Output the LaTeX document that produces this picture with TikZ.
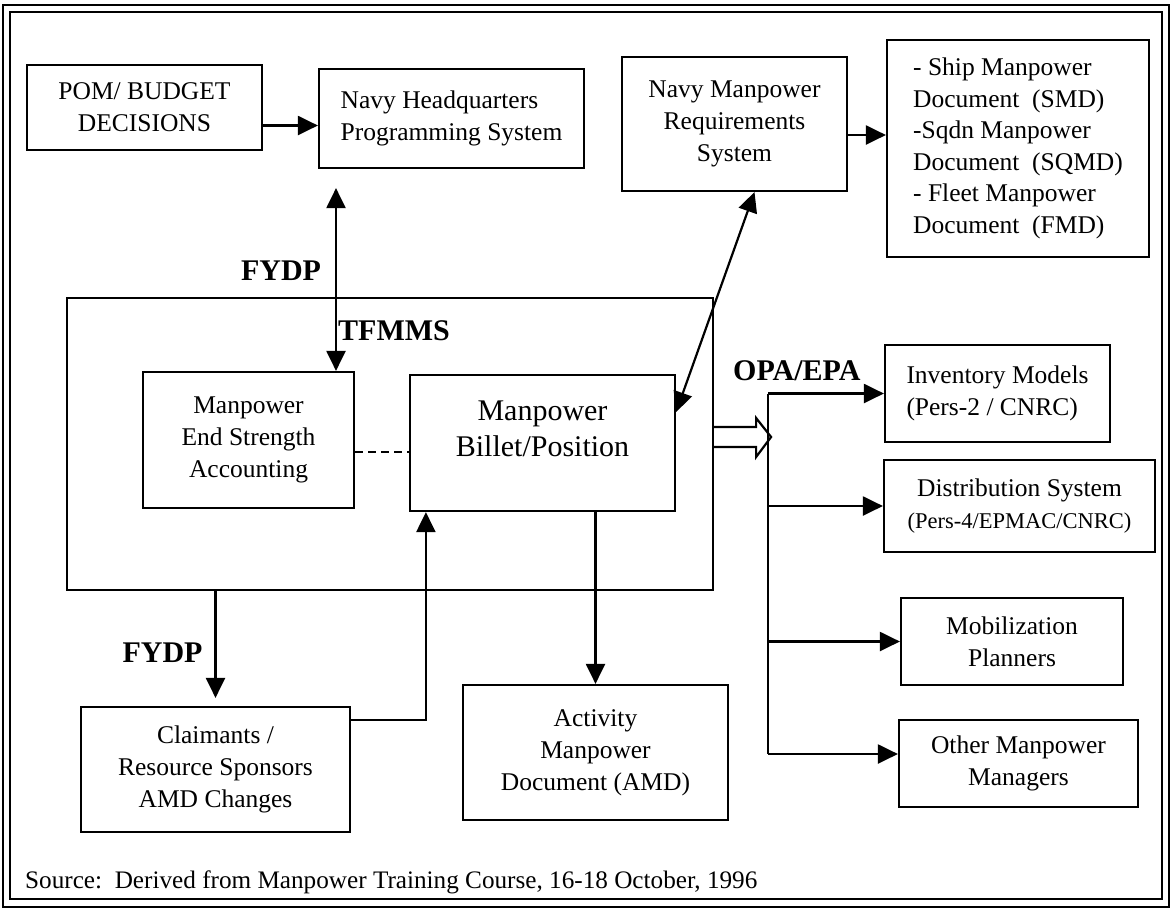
\documentclass[tikz,border=0pt]{standalone}
\usepackage{fontspec}
\setmainfont{Liberation Serif}
\usetikzlibrary{arrows.meta}

\begin{document}
\begin{tikzpicture}[x=1pt,y=-1pt,
  box/.style={draw=black,line width=2.2pt,align=center,font=\fontsize{25.5}{32}\selectfont},
  lbl/.style={font=\fontsize{30}{36}\selectfont\bfseries},
  arr/.style={black,line width=2.2pt,-{Triangle[length=20pt,width=19pt]}},
  darr/.style={black,line width=2.2pt,{Triangle[length=20pt,width=19pt]}-{Triangle[length=20pt,width=19pt]}}]
\tikzstyle{every node}+=[inner sep=0pt]
\useasboundingbox (0,0) rectangle (1172,911);
\draw [black,line width=2.6pt] (3,5) rectangle (1169,907);
\draw [black,line width=1.6pt] (10,12) rectangle (1162,899);
\node [box,minimum width=235pt,minimum height=85pt] (pom) at (144.5,107.5) {POM/ BUDGET\\DECISIONS};
\node [box,minimum width=265pt,minimum height=99pt,align=left] (hq) at (451.5,118.5) {Navy Headquarters\\Programming System};
\node [box,minimum width=225pt,minimum height=134pt] (nmrs) at (734.5,124) {Navy Manpower\\Requirements\\System};
\node [box,minimum width=262pt,minimum height=217pt,align=left,font=\fontsize{25.5}{31.5}\selectfont] (smd) at (1018,148.5)
  {- Ship Manpower\\Document~ (SMD)\\-Sqdn Manpower\\Document~ (SQMD)\\- Fleet Manpower\\Document~ (FMD)};
\node [box,minimum width=646pt,minimum height=292pt] (tfmms) at (390,444) {};
\node [box,minimum width=211pt,minimum height=136pt] (esa) at (248.5,440) {Manpower\\End Strength\\Accounting};
\node [box,minimum width=265pt,minimum height=136pt,
  label={[align=center,font=\fontsize{30}{36}\selectfont,yshift=14pt]center:Manpower\\Billet/Position}] (billet) at (542.5,443) {};
\node [box,minimum width=225pt,minimum height=97pt,align=left] (inv) at (997.5,393.5) {Inventory Models\\(Pers-2 / CNRC)};
\node [box,minimum width=271pt,minimum height=92pt] (dist) at (1019.5,506)
  {Distribution System\\{\fontsize{22.5}{27}\selectfont(Pers-4/EPMAC/CNRC)}};
\node [box,minimum width=222pt,minimum height=87pt] (mob) at (1012,641.5) {Mobilization\\Planners};
\node [box,minimum width=239pt,minimum height=87pt] (other) at (1018.5,763.5) {Other Manpower\\Managers};
\node [box,minimum width=269pt,minimum height=125pt] (claim) at (215.5,769.5) {Claimants /\\Resource Sponsors\\AMD Changes};
\node [box,minimum width=265pt,minimum height=135pt] (amd) at (595.5,752.5) {Activity\\Manpower\\Document (AMD)};
\node [lbl,anchor=base] (fydptop) at (281,280) {FYDP};
\node [lbl,anchor=base west] (tfmmslbl) at (338,340) {TFMMS};
\node [lbl,anchor=base west] (opaepa) at (733,380) {OPA/EPA};
\node [lbl,anchor=base] (fydpbot) at (162.5,662) {FYDP};
\node [anchor=base west,font=\fontsize{25.2}{32}\selectfont] (source) at (25,888)
  {Source:\ \ Derived from Manpower Training Course, 16-18 October, 1996};
\coordinate (fyx) at (336,0);
\coordinate (bus) at (768,0);
\draw [arr] ([yshift=-18pt]pom.east) -- ([yshift=-18pt]pom.east -| hq.west);
\draw [arr] ([yshift=-11pt]nmrs.east) -- ([yshift=-11pt]nmrs.east -| smd.west);
\draw [darr] ([yshift=-19pt]hq.south -| fyx) -- (esa.north -| fyx);
\draw [darr] ([xshift=20pt]nmrs.south) -- ([yshift=31pt]billet.east);
\draw [black,line width=2.2pt,dash pattern=on 8pt off 5pt] ([yshift=-12pt]esa.east) -- ([yshift=-12pt]esa.east -| billet.west);
\draw [black,line width=2.2pt,fill=white] ([yshift=17pt]tfmms.east) -- ++(42,0) -- ++(0,-9) -- ++(15,19) -- ++(-15,20) -- ++(0,-10) -- ++(-42,0);
\draw [black,line width=2.2pt] (inv.west -| bus) -- ([yshift=9.5pt]other.west -| bus);
\draw [arr] (inv.west -| bus) -- (inv.west);
\draw [arr] (dist.west -| bus) -- (dist.west);
\draw [arr] (mob.west -| bus) -- (mob.west);
\draw [arr] ([yshift=9.5pt]other.west -| bus) -- ([yshift=9.5pt]other.west);
\draw [arr] (amd.north |- billet.south) -- (amd.north);
\draw [arr] ([yshift=49.5pt]claim.east) -| ([xshift=17pt]billet.south west);
\draw [arr,shorten >=8pt] (claim.north |- tfmms.south) -- (claim.north);
\end{tikzpicture}
\end{document}
